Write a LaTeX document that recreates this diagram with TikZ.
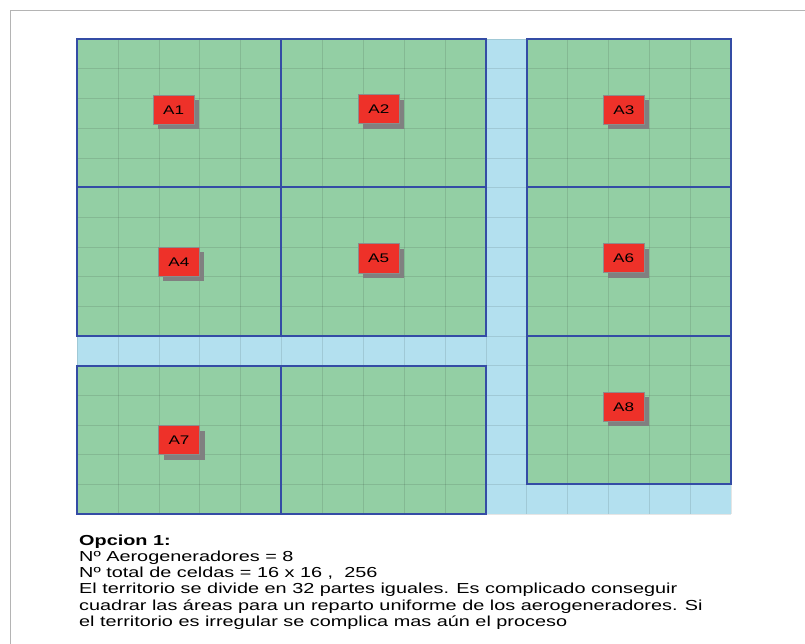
\documentclass[tikz,border=0pt]{standalone}
\usepackage{fontspec}
\setmainfont{Liberation Sans}
\usetikzlibrary{shadows}
\definecolor{fieldgreen}{RGB}{147,207,164}
\definecolor{roadblue}{RGB}{179,224,239}
\definecolor{edgeblue}{RGB}{52,76,165}
\definecolor{turbred}{RGB}{238,49,41}
\definecolor{framegray}{RGB}{180,180,180}
\newcommand{\cellgrid}[4]{\foreach \x in {#1,...,#2} {
        \draw[black, opacity=0.1] (\x, #3) -- (\x, #4);
    }
    \foreach \y in {#3,...,#4} {
        \draw[black, opacity=0.1] (#1, \y) -- (#2, \y);
    }
}
\newcommand{\parcel}[4]{\fill[fieldgreen] (#1, #2) rectangle (#3, #4);}
\newcommand{\parceledge}[4]{\draw[edgeblue, line width=2pt] (#1, #2) rectangle (#3, #4);}
\newcommand{\widetext}[1]{\scalebox{1.37}[1]{#1}}
\tikzset{
    turbine/.style={fill=turbred, draw=black!45, line width=0.6pt, minimum width=41pt, minimum height=29pt,
        inner sep=0pt, font=\fontsize{12.5}{14}\selectfont,
        drop shadow={shadow xshift=5pt, shadow yshift=-5pt, fill=black!50, opacity=1}}
}

\begin{document}
\begin{tikzpicture}[x=1pt, y=-1pt]
    \useasboundingbox (0,0) rectangle (805,644);
    \fill[white] (0,0) rectangle (805,644);
    \draw[framegray] (10,644) -- (10,10) -- (805,10);

    \begin{scope}[shift={(77,39)}, x=40.875pt, y=-29.6875pt]
        % Draw fields and roads
        \fill[roadblue] (0,0) rectangle (16,16);
        \parcel{0}{0}{5}{5}
        \parcel{5}{0}{10}{5}
        \parcel{11}{0}{16}{5}
        \parcel{0}{5}{5}{10}
        \parcel{5}{5}{10}{10}
        \parcel{11}{5}{16}{10}
        \parcel{0}{11}{5}{16}
        \parcel{5}{11}{10}{16}
        \parcel{11}{10}{16}{15}
        \cellgrid{0}{16}{0}{16}

        % Draw parcel borders
        \parceledge{0}{0}{5}{5}
        \parceledge{5}{0}{10}{5}
        \parceledge{11}{0}{16}{5}
        \parceledge{0}{5}{5}{10}
        \parceledge{5}{5}{10}{10}
        \parceledge{11}{5}{16}{10}
        \parceledge{0}{11}{5}{16}
        \parceledge{5}{11}{10}{16}
        \parceledge{11}{10}{16}{15}
    \end{scope}

    % Draw turbines
    \node[turbine] (a1) at (173.7, 109.8) {\widetext{A1}};
    \node[turbine] (a2) at (378.8, 109.2) {\widetext{A2}};
    \node[turbine] (a3) at (623.8, 109.8) {\widetext{A3}};
    \node[turbine] (a4) at (178.8, 261.7) {\widetext{A4}};
    \node[turbine] (a5) at (378.7, 258.3) {\widetext{A5}};
    \node[turbine] (a6) at (623.7, 258.2) {\widetext{A6}};
    \node[turbine] (a7) at (179.0, 440.0) {\widetext{A7}};
    \node[turbine] (a8) at (623.7, 406.7) {\widetext{A8}};

    \node[anchor=north west, inner sep=0pt, font=\fontsize{14.5}{16.2}\selectfont] (notes) at (79, 533.7)
        {\widetext{\begin{tabular}[t]{@{}l@{}}
        \textbf{Opcion 1:}\\
        Nº Aerogeneradores = 8\\
        Nº total de celdas = 16 x 16 ,\ \ 256\\
        El territorio se divide en 32 partes iguales. Es complicado conseguir\\
        cuadrar las áreas para un reparto uniforme de los aerogeneradores. Si\\
        el territorio es irregular se complica mas aún el proceso
        \end{tabular}}};
\end{tikzpicture}
\end{document}
